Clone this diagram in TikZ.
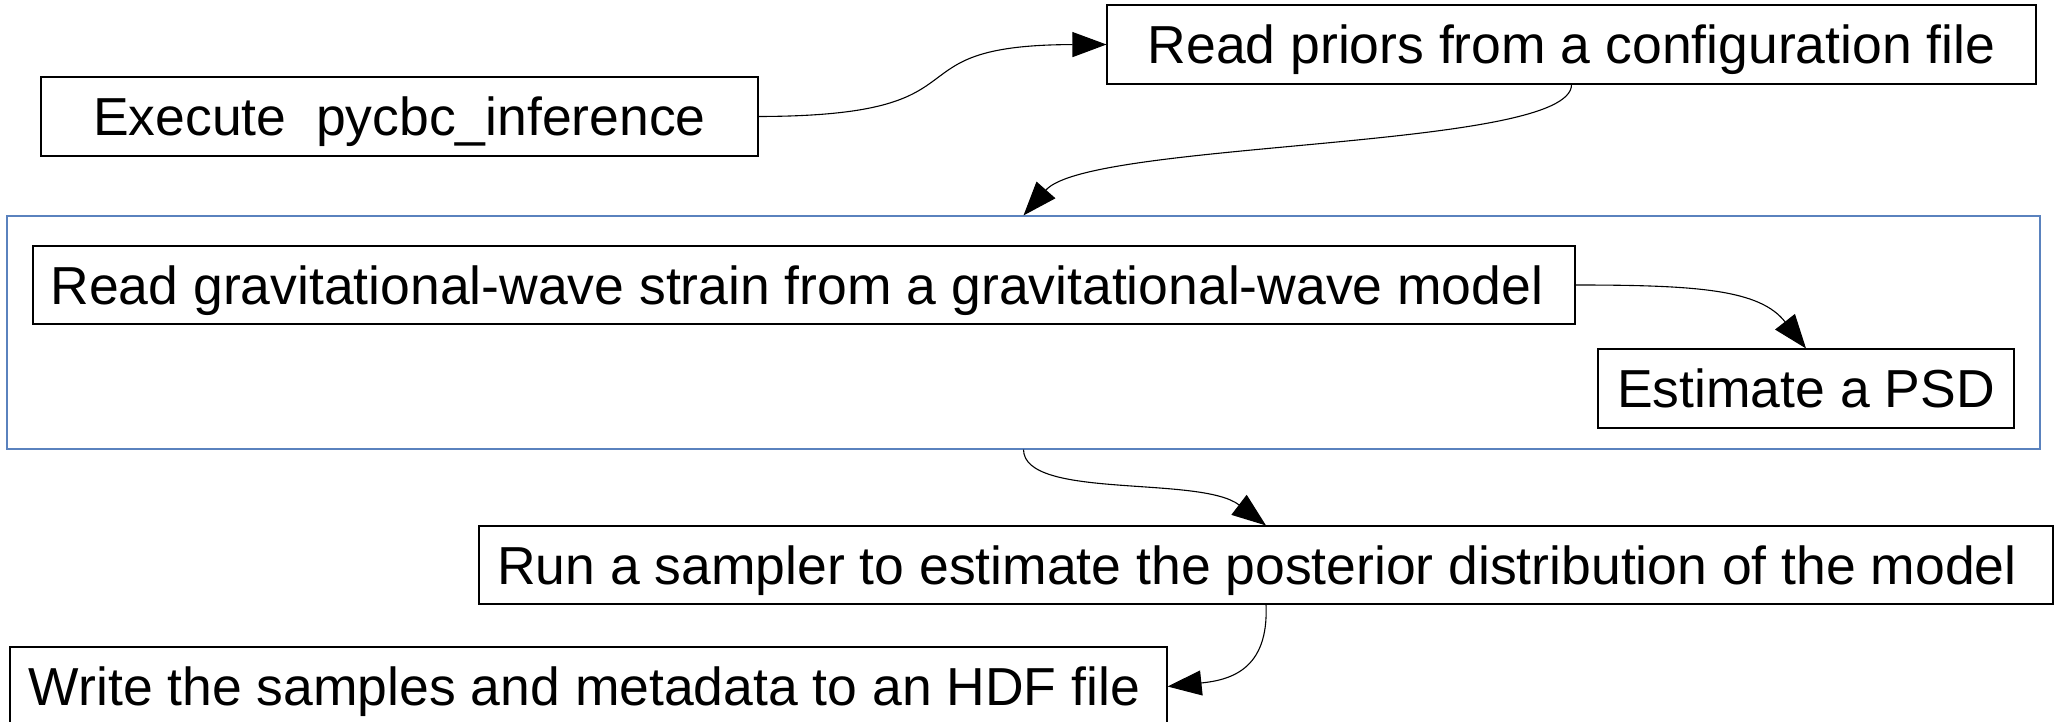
\documentclass[tikz,border=0pt]{standalone}
\usepackage{fontspec}
\setmainfont{Liberation Sans}
\usetikzlibrary{arrows.meta}
\definecolor{grpblue}{HTML}{5A82BE}
\tikzset{
  stepbox/.style={draw=black, line width=1.1pt, fill=white, rectangle, inner sep=0pt,
    font=\fontsize{53.5}{62}\selectfont, text height=38.3pt, text depth=0pt, align=center},
  groupbox/.style={draw=grpblue, line width=1.1pt, rectangle, inner sep=0pt},
  flow/.style={draw=black, line width=1.1pt, -{Triangle[length=34pt,width=25pt]}}
}
\begin{document}
\begin{tikzpicture}[x=1pt,y=-1pt]
\useasboundingbox (0,0) rectangle (2055,722);
\clip (0,0) rectangle (2055,722);
\node[groupbox, minimum width=2033pt, minimum height=233pt] (grp) at (1023.5,332.5) {};
\node[stepbox, minimum width=717pt, minimum height=79pt] (exec) at (399.5,116.5) {Execute\ \ pycbc\_inference};
\node[stepbox, minimum width=929pt, minimum height=79pt] (priors) at (1571.5,44.5) {Read priors from a configuration file};
\node[stepbox, minimum width=1542pt, minimum height=78pt] (grav) at (804,285) {Read gravitational-wave strain from a gravitational-wave model\hspace*{14pt}};
\node[stepbox, minimum width=416pt, minimum height=79pt] (psd) at (1806,388.5) {Estimate a PSD};
\node[stepbox, minimum width=1574pt, minimum height=78pt] (run) at (1266,565) {Run a sampler to estimate the posterior distribution of the model\hspace*{18pt}};
\node[stepbox, minimum width=1157pt, minimum height=79pt] (write) at (588.5,686.5) {Write the samples and metadata to an HDF file\hspace*{8pt}};

\draw[flow] (exec.east) .. controls (1000,116) and (880,45) .. (priors.west);
\draw[flow] (priors.south) .. controls (1572,150) and (1090,140) .. (grp.north);
\draw[flow] (grav.east) .. controls (1700,285) and (1760,290) .. (psd.north);
\draw[flow] (grp.south) .. controls (1024,500) and (1200,475) .. (run.north);
\draw[flow] (run.south) .. controls (1269,670) and (1230,680) .. (write.east);
\end{tikzpicture}
\end{document}
